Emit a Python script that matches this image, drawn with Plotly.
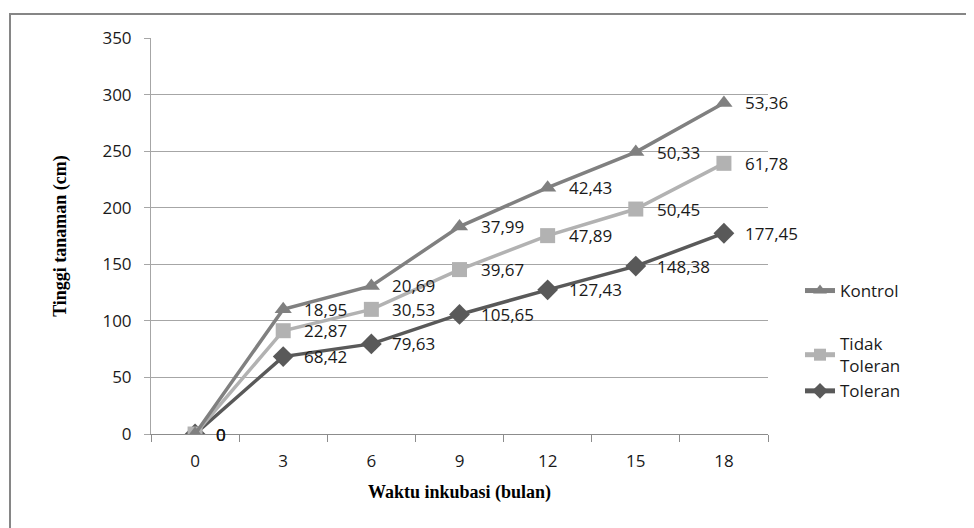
import numpy as np
import plotly.graph_objects as go

# Data (stacked line chart: each series' own increment is shown as its label)
months = ["0", "3", "6", "9", "12", "15", "18"]
toleran = [0, 68.42, 79.63, 105.65, 127.43, 148.38, 177.45]
tidak_toleran = [0, 22.87, 30.53, 39.67, 47.89, 50.45, 61.78]
kontrol = [0, 18.95, 20.69, 37.99, 42.43, 50.33, 53.36]
y_ticks = [0, 50, 100, 150, 200, 250, 300, 350]

def fmt(v):
    return "0" if v == 0 else f"{v:.2f}".replace(".", ",")

cum_tol = np.array(toleran)
cum_tidak = cum_tol + np.array(tidak_toleran)
cum_kontrol = cum_tidak + np.array(kontrol)

series = [
    ("Toleran", cum_tol, toleran, "#595959", "diamond", "b", 3),
    ("Tidak<br>Toleran", cum_tidak, tidak_toleran, "#b2b2b2", "square", "b", 2),
    ("Kontrol", cum_kontrol, kontrol, "#808080", "triangle-up", "a", 1),
]

fig = go.Figure()
annotations = []
for name, ys, raw, color, sym, grp, rank in series:
    fig.add_trace(go.Scatter(
        x=months, y=ys, name=name, mode="lines+markers",
        line=dict(color=color, width=3.5),
        marker=dict(symbol=sym, size=15 if sym != "diamond" else 16, color=color),
        legendgroup=grp, legendrank=rank,
    ))
    for i, (yv, rv) in enumerate(zip(ys, raw)):
        annotations.append(dict(
            x=i, y=yv, xref="x", yref="y", text=fmt(rv), showarrow=False,
            xanchor="left", yanchor="middle", xshift=19,
            font=dict(family="Open Sans", size=17, color="#1a1a1a"),
        ))

# page offset (body margin) compensation
OFF = 8
pl, pr, pt, pb = 151 - OFF, 768 - OFF, 38 - OFF, 434 - OFF
def px_x(p):
    return (p - OFF - pl) / (pr - pl)
def px_y(p):
    return (pb - (p - OFF)) / (pb - pt)

fig.update_layout(
    width=974, height=528,
    margin=dict(l=pl, r=974 - pr, t=pt, b=528 - pb, autoexpand=False),
    paper_bgcolor="white", plot_bgcolor="white",
    font=dict(family="Open Sans", size=17, color="#1a1a1a"),
    annotations=annotations,
    showlegend=True,
    legend=dict(
        x=px_x(800), y=px_y(273), xanchor="left", yanchor="top",
        traceorder="grouped", tracegroupgap=28, itemsizing="constant",
        font=dict(family="Open Sans", size=17, color="#1a1a1a"),
        bgcolor="rgba(0,0,0,0)", itemwidth=30,
    ),
    xaxis=dict(
        type="category", tickson="boundaries", range=[-0.5, 6.5],
        showgrid=False, showline=True, linecolor="#8c8c8c", linewidth=1,
        ticks="outside", ticklen=7, tickcolor="#8c8c8c",
        ticklabelstandoff=12, tickangle=0,
        tickfont=dict(family="Open Sans", size=17, color="#1a1a1a"),
        title=dict(text="Waktu inkubasi (bulan)", standoff=13,
                   font=dict(family="Liberation Serif", size=18, color="#000000", weight="bold")),
        zeroline=False,
    ),
    yaxis=dict(
        range=[0, 350], tickvals=y_ticks, ticktext=[str(v) for v in y_ticks],
        showgrid=True, gridcolor="#a6a6a6", gridwidth=1,
        showline=True, linecolor="#a6a6a6", linewidth=1,
        ticks="outside", ticklen=6, tickcolor="#a6a6a6",
        ticklabelstandoff=9,
        tickfont=dict(family="Open Sans", size=17, color="#1a1a1a"),
        title=dict(text="Tinggi tanaman (cm)", standoff=31,
                   font=dict(family="Liberation Serif", size=18, color="#000000", weight="bold")),
        zeroline=False,
    ),
    shapes=[dict(
        type="rect", xref="paper", yref="paper",
        x0=px_x(10), x1=px_x(990), y0=px_y(545), y1=px_y(14),
        line=dict(color="#868686", width=2), fillcolor="rgba(0,0,0,0)", layer="below",
    )],
)

fig.write_html("out.html")
